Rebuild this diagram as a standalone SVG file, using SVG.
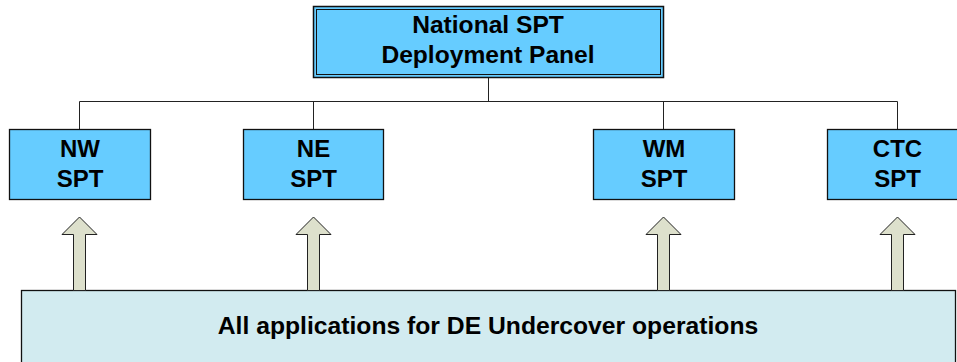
<svg xmlns="http://www.w3.org/2000/svg" width="957" height="362" viewBox="0 0 957 362">
<style>
.box{fill:#66CCFF;stroke:#111;stroke-width:1.3}
.lbl{font-family:"Liberation Sans",Arial,sans-serif;font-weight:bold;font-size:24px;fill:#000;text-anchor:middle}
.conn{fill:none;stroke:#222;stroke-width:1}
.arr{fill:#DDE0CC;stroke:#222;stroke-width:1}
</style>
<rect width="957" height="362" fill="#fff"/>
<g id="connectors">
<path class="conn" d="M488.5 77.5V101.5M79.5 129V101.5H897.5V129M313.5 101.5V129M663.5 101.5V129"/>
</g>
<g id="base">
<rect x="21.5" y="290.5" width="934" height="80" fill="#D2EBF0" stroke="#111" stroke-width="1.3"/>
<text class="lbl" x="488" y="334" style="font-size:24.7px">All applications for DE Undercover operations</text>
</g>
<g id="arrows">
<path class="arr" d="M79.5 217L97 234.5H85.5V290.5H73.5V234.5H62Z"/>
<path class="arr" d="M313.5 217L331 234.5H319.5V290.5H307.5V234.5H296Z"/>
<path class="arr" d="M663.5 217L681 234.5H669.5V290.5H657.5V234.5H646Z"/>
<path class="arr" d="M897.5 217L915 234.5H903.5V290.5H891.5V234.5H880Z"/>
</g>
<g id="national">
<rect x="313.5" y="6.5" width="350" height="71" fill="#66CCFF" stroke="#111" stroke-width="1.5"/>
<rect x="316.5" y="9.5" width="344" height="65" fill="none" stroke="#111" stroke-width="1"/>
<text class="lbl" x="488" y="33" style="font-size:24.6px">National SPT</text>
<text class="lbl" x="488" y="63" style="font-size:24.6px">Deployment Panel</text>
</g>
<g id="nw">
<rect class="box" x="9.5" y="129.5" width="141" height="70"/>
<text class="lbl" x="80" y="157">NW</text>
<text class="lbl" x="80" y="187">SPT</text>
</g>
<g id="ne">
<rect class="box" x="243.5" y="129.5" width="140" height="70"/>
<text class="lbl" x="313.5" y="157">NE</text>
<text class="lbl" x="313.5" y="187">SPT</text>
</g>
<g id="wm">
<rect class="box" x="593.5" y="129.5" width="141" height="70"/>
<text class="lbl" x="664" y="157">WM</text>
<text class="lbl" x="664" y="187">SPT</text>
</g>
<g id="ctc">
<rect class="box" x="827.5" y="129.5" width="141" height="70"/>
<text class="lbl" x="897.5" y="157">CTC</text>
<text class="lbl" x="897.5" y="187">SPT</text>
</g>
</svg>
